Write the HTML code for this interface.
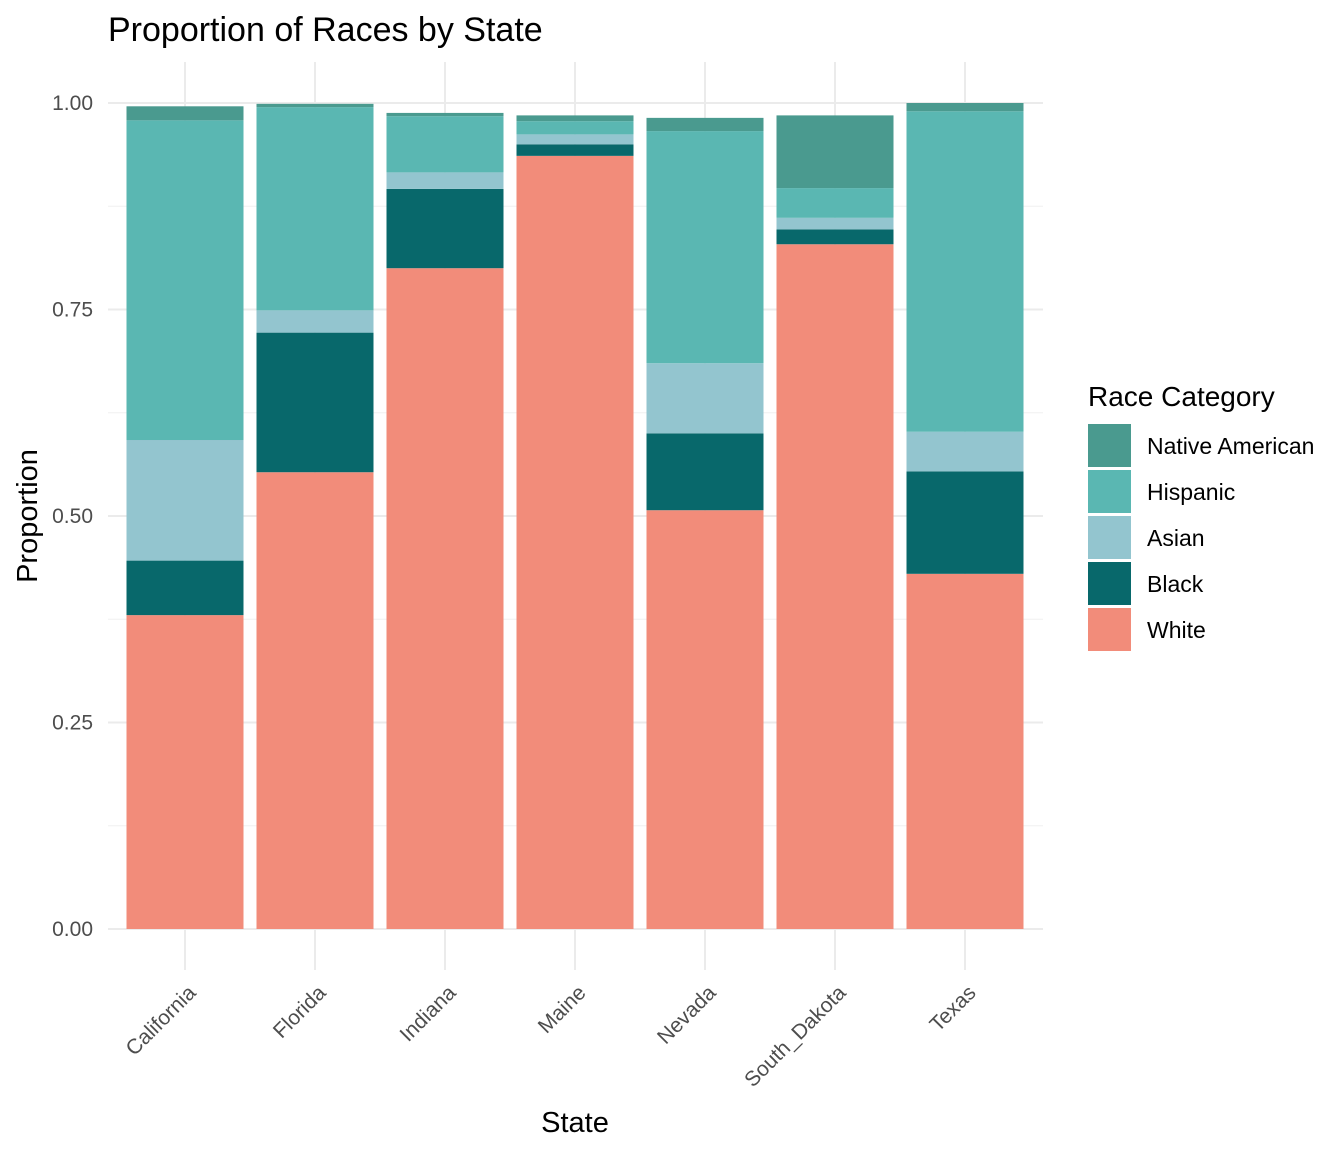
<!DOCTYPE html>
<html><head><meta charset="utf-8"><style>
body{margin:0;background:#fff;}
svg{display:block;font-family:"Liberation Sans",Arial,sans-serif;}
</style></head><body>
<svg id="chart" width="1344" height="1152" viewBox="0 0 1344 1152">
<text x="108" y="41" font-size="34" fill="#000">Proportion of Races by State</text>
<g id="grid"></g><g id="bars"></g><g id="axes"></g><g id="legend"></g>
<text x="575" y="1132" font-size="29" text-anchor="middle" fill="#000">State</text>
<text transform="translate(37,516) rotate(-90)" font-size="29" text-anchor="middle" fill="#000">Proportion</text>
</svg>
<script>
const states=["California","Florida","Indiana","Maine","Nevada","South_Dakota","Texas"];
const categories=["White","Black","Asian","Hispanic","Native American"];
const white=[0.380,0.553,0.800,0.936,0.507,0.829,0.430];
const black=[0.066,0.169,0.096,0.014,0.093,0.018,0.124];
const asian=[0.146,0.027,0.020,0.012,0.085,0.014,0.048];
const hispanic=[0.387,0.246,0.068,0.016,0.281,0.036,0.388];
const native=[0.017,0.004,0.004,0.007,0.016,0.088,0.010];
const yTicks=[0,0.25,0.5,0.75,1.0];
const yTickLabels=["0.00","0.25","0.50","0.75","1.00"];
const colors={"White":"#F28C7A","Black":"#08686B","Asian":"#93C5CF","Hispanic":"#5AB7B2","Native American":"#4A9A8F"};
const series=[white,black,asian,hispanic,native];
const NS="http://www.w3.org/2000/svg";
const y=v=>929-v*826;
const x=i=>185+i*130;
const bw=117;
function mk(tag,attrs,parent,text){const e=document.createElementNS(NS,tag);for(const k in attrs)e.setAttribute(k,attrs[k]);if(text!==undefined)e.textContent=text;parent.appendChild(e);return e;}
const grid=document.getElementById('grid'),bars=document.getElementById('bars'),axes=document.getElementById('axes'),legend=document.getElementById('legend');
for(let v=0.125;v<1.1;v+=0.25){const l=mk('line',{x1:108,x2:1043,y1:y(v),y2:y(v),stroke:'#f0f0f0','stroke-width':1},grid);

}
yTicks.forEach((v,i)=>{const l=mk('line',{x1:108,x2:1043,y1:y(v),y2:y(v),stroke:'#ebebeb','stroke-width':2},grid);


const t=mk('text',{x:93,y:y(v)+7,'font-size':21,'text-anchor':'end',fill:'#4d4d4d'},axes,yTickLabels[i]);

});
states.forEach((s,i)=>{const l=mk('line',{x1:x(i),x2:x(i),y1:62,y2:970,stroke:'#ebebeb','stroke-width':2},grid);


let cum=0;
series.forEach((arr,k)=>{const v=arr[i];const r=mk('rect',{x:x(i)-bw/2,y:y(cum+v),width:bw,height:v*826,fill:colors[categories[k]]},bars);


cum+=v;});
const t=mk('text',{transform:`translate(${x(i)+12},${994}) rotate(-45)`,'font-size':21,'text-anchor':'end',fill:'#4d4d4d'},axes,s);

});
const lt=mk('text',{x:1088,y:406,'font-size':28,fill:'#000'},legend,'Race Category');


const order=["Native American","Hispanic","Asian","Black","White"];
order.forEach((c,j)=>{const yy=424+j*46;
const r=mk('rect',{x:1088,y:yy,width:43,height:43,fill:colors[c]},legend);


const t=mk('text',{x:1147,y:yy+30,'font-size':23,fill:'#000'},legend,c);

});
</script>
</body></html>
